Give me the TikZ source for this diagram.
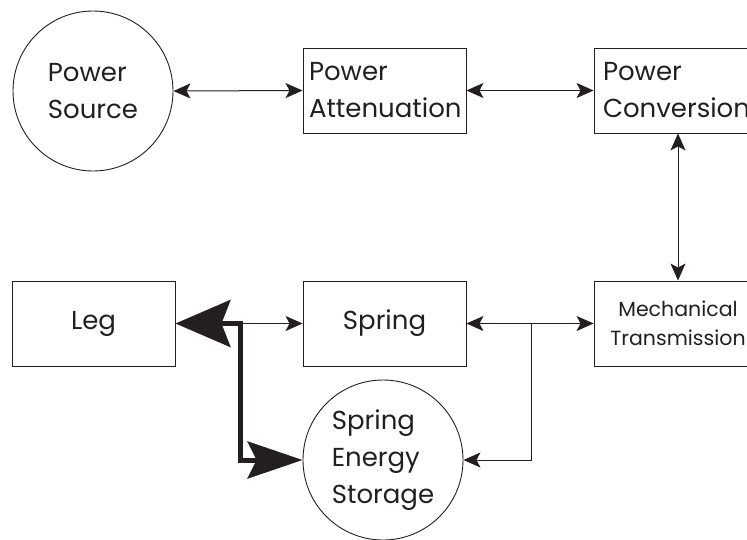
\documentclass[tikz,border=0pt]{standalone}
\usepackage{fontspec}
\setmainfont{Poppins}
\usetikzlibrary{arrows.meta}
\definecolor{ink}{HTML}{231F20}
\tikzset{
  base/.style={draw=ink, line width=0.9pt, text=ink, inner sep=0pt},
  boxnode/.style={base, rectangle, minimum height=85pt},
  circnode/.style={base, circle, minimum size=160pt},
  bigtext/.style={font=\fontsize{26}{37}\selectfont},
  smalltext/.style={font=\fontsize{20.5}{29}\selectfont},
  tip/.tip={Stealth[length=17pt,width=15pt,inset=4pt]},
  conn/.style={draw=ink, line width=1pt},
  heavy/.style={draw=ink, line width=5pt},
}
\begin{document}
\begin{tikzpicture}[x=1pt,y=-1pt]
\useasboundingbox (0,0) rectangle (747,539);
\begin{scope}
\clip (0,0) rectangle (747,539);
\node[circnode, bigtext, align=left] (ps) at (93,91) {Power\\Source};
\node[boxnode, bigtext, minimum width=163pt, text width=151pt, align=left] (pa) at (384.5,90.5) {Power\\Attenuation};
\node[boxnode, bigtext, minimum width=168pt, text width=150pt, align=left] (pc) at (678,90.5) {Power\\Conversion};
\node[boxnode, bigtext, minimum width=163pt] (leg) at (93.5,323.5) {Leg};
\node[boxnode, bigtext, minimum width=163pt] (sp) at (384.5,323.5) {Spring};
\node[boxnode, smalltext, minimum width=168pt, align=center] (mt) at (678,323.5) {Mechanical\\Transmission};
\node[circnode, bigtext, align=left] (ses) at (383,460) {Spring\\Energy\\Storage};

\coordinate (tk) at (240,323.5);
\coordinate (br) at (531,323.5);

\draw[conn, {tip}-{tip}] (ps.east) -- (pa.west);
\draw[conn, {tip}-{tip}] (pa.east) -- (pc.west);
\draw[conn, {tip}-{tip}] (pc.south) -- (mt.north);
\draw[conn, {tip}-{tip}] (sp.east) -- (mt.west);
\draw[conn, -{tip}] (br) |- (ses.east);
\draw[conn, -{tip}] (tk) -- (sp.west);
\draw[heavy, line join=miter, {Stealth[length=55pt,width=47pt,inset=9pt]}-{Stealth[length=55pt,width=37pt,inset=9pt]}] (leg.east) -- (tk) |- (ses.west);
\end{scope}
\end{tikzpicture}
\end{document}
